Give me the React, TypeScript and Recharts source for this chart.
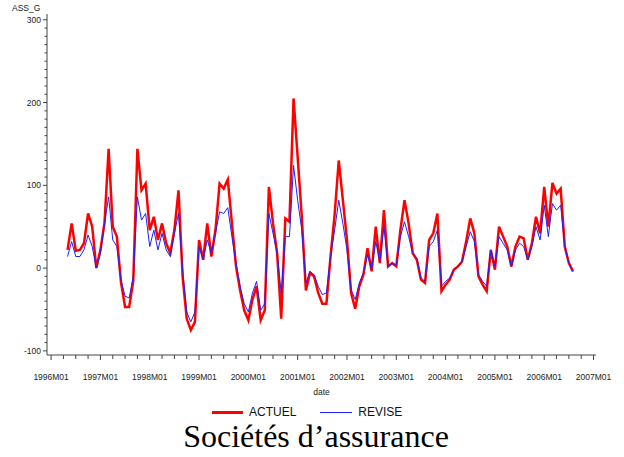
import { LineChart, Line, XAxis, YAxis, Label } from 'recharts';

// first plotted month, counted from 1996M01 (= 0)
const firstMonth = 4;

const actuel = [
  22, 54, 21, 22, 30, 66, 50, 0, 22, 55, 144, 50, 38, -17, -47, -47, -15, 144, 94, 102,
  46, 62, 34, 54, 30, 18, 46, 94, -10, -61, -75, -65, 34, 10, 54, 14, 46, 102, 96, 107,
  54, 2, -27, -51, -63, -38, -22, -63, -51, 98, 54, 18, -61, 60, 56, 205, 134, 62, -27, -6,
  -10, -30, -43, -43, 14, 65, 130, 82, 34, -30, -49, -22, -8, 24, -4, 50, 6, 70, 2, 6,
  2, 46, 82, 54, 18, 10, -14, -18, 34, 42, 66, -28, -20, -14, -2, 2, 8, 32, 60, 42,
  -10, -20, -28, 22, -2, 50, 38, 26, 2, 26, 38, 36, 10, 30, 62, 42, 98, 50, 103, 90,
  96, 26, 6, -4,
];

const revise = [
  14, 32, 14, 14, 22, 40, 26, 0, 18, 54, 86, 34, 26, -14, -34, -36, -10, 86, 58, 66,
  26, 46, 22, 42, 22, 14, 42, 66, -2, -53, -65, -53, 26, 10, 34, 18, 42, 68, 66, 73,
  38, 6, -22, -43, -53, -30, -16, -51, -43, 66, 42, 18, -30, 38, 38, 124, 82, 46, -18, -4,
  -8, -22, -32, -30, 14, 46, 82, 54, 22, -26, -38, -18, -6, 16, -2, 32, 8, 50, 2, 6,
  4, 38, 56, 38, 18, 12, -12, -16, 26, 32, 46, -22, -16, -12, -2, 2, 8, 26, 44, 32,
  -8, -16, -22, 22, 2, 38, 30, 22, 2, 22, 30, 26, 10, 26, 50, 34, 76, 38, 78, 70,
  76, 26, 6, -4,
];

const yearLabels = [
  '1996M01', '1997M01', '1998M01', '1999M01', '2000M01', '2001M01',
  '2002M01', '2003M01', '2004M01', '2005M01', '2006M01', '2007M01',
];

const data = actuel.map((v, i) => ({ m: firstMonth + i, actuel: v, revise: revise[i] }));

const xTicks = Array.from({ length: 45 }, (_, i) => i * 3);
const yTicks = Array.from({ length: 41 }, (_, i) => -100 + i * 10);

const axisColor = '#444';
const font = '"Liberation Sans", Arial, sans-serif';

const XTick = ({ x, y, payload }: any) => {
  const major = payload.value % 12 === 0;
  return (
    <g>
      <line x1={x} y1={y} x2={x} y2={y + (major ? 5 : 4)} stroke={axisColor} />
      {major && (
        <text x={x} y={y + 25} textAnchor="middle" fontSize={8.5} fontFamily={font} fill="#222">
          {yearLabels[payload.value / 12]}
        </text>
      )}
    </g>
  );
};

const YTick = ({ x, y, payload }: any) => {
  const major = payload.value % 100 === 0;
  return (
    <g>
      <line x1={x - (major ? 4 : 2.5)} y1={y} x2={x} y2={y} stroke={axisColor} />
      {major && (
        <text x={x - 6} y={y + 3} textAnchor="end" fontSize={8.5} fontFamily={font} fill="#222">
          {payload.value}
        </text>
      )}
    </g>
  );
};

export default function App() {
  return (
    <div style={{ position: 'absolute', left: 0, top: 0, width: 624, height: 457, background: '#fff', overflow: 'hidden' }}>
      <LineChart width={624} height={457} data={data} margin={{ top: 14, right: 28, bottom: 62, left: 7 }}>
        <XAxis
          dataKey="m"
          type="number"
          domain={[-1, 132.6]}
          ticks={xTicks}
          interval={0}
          tick={<XTick />}
          tickLine={false}
          tickSize={0}
          tickMargin={0}
          height={40}
          axisLine={{ stroke: axisColor }}
        >
          <Label value="date" position="insideBottom" offset={0} fontSize={8.5} fontFamily={font} fill="#222" />
        </XAxis>
        <XAxis xAxisId="top" orientation="top" type="number" domain={[-1, 132.6]} height={0} tick={false} tickLine={false} axisLine={{ stroke: '#666' }} />
        <YAxis
          type="number"
          domain={[-105, 307]}
          ticks={yTicks}
          interval={0}
          tick={<YTick />}
          tickLine={false}
          tickSize={0}
          tickMargin={0}
          width={40}
          axisLine={{ stroke: axisColor }}
        />
        <YAxis yAxisId="right" orientation="right" domain={[-105, 307]} width={0} tick={false} tickLine={false} axisLine={{ stroke: '#888' }} />
        <Line dataKey="actuel" stroke="#ff0000" strokeWidth={2.5} dot={false} isAnimationActive={false} type="linear" />
        <Line dataKey="revise" stroke="#2020ff" strokeWidth={1} dot={false} isAnimationActive={false} type="linear" />
      </LineChart>
      <div style={{ position: 'absolute', left: 12, top: 3, fontFamily: font, fontSize: 8.5, color: '#222' }}>ASS_G</div>
      <div style={{ position: 'absolute', left: 212, top: 405, display: 'flex', alignItems: 'center', fontFamily: font, fontSize: 12, color: '#111' }}>
        <span style={{ display: 'inline-block', width: 31, height: 3, background: '#ff0000' }} />
        <span style={{ marginLeft: 6 }}>ACTUEL</span>
        <span style={{ display: 'inline-block', width: 32, height: 1, background: '#2020ff', marginLeft: 24 }} />
        <span style={{ marginLeft: 6 }}>REVISE</span>
      </div>
      <div style={{ position: 'absolute', left: 0, top: 420, width: 632, textAlign: 'center', fontFamily: '"Liberation Serif", serif', fontSize: 32, lineHeight: '32px', color: '#000' }}>
        Sociétés d’assurance
      </div>
    </div>
  );
}
